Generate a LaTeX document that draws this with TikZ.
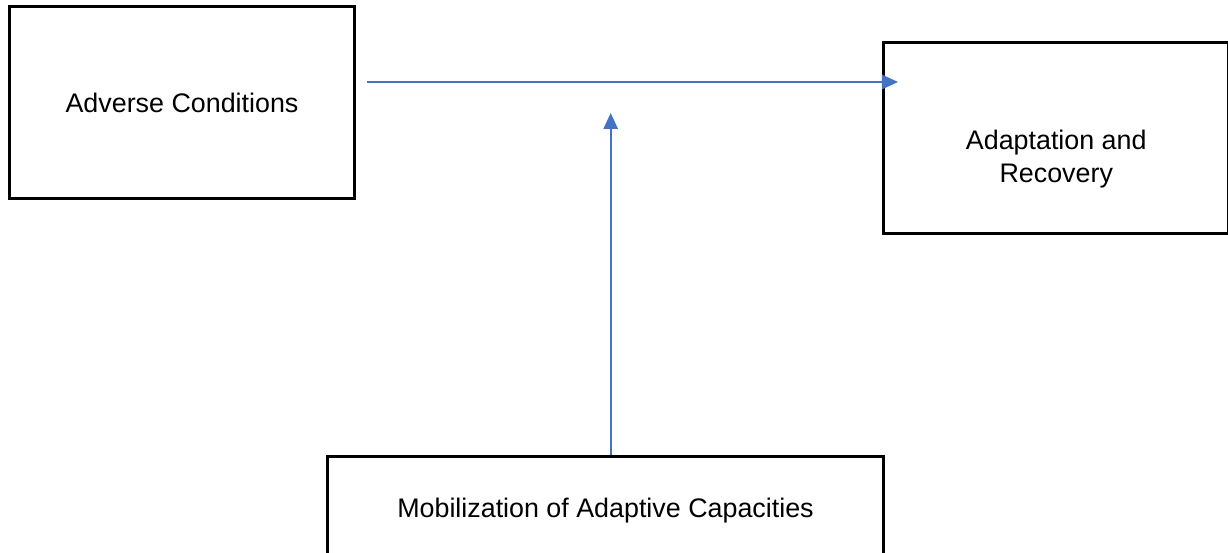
\documentclass[tikz,border=0pt]{standalone}
\usepackage{fontspec}
\setmainfont{Liberation Sans}
\usepackage{tikz}
\usetikzlibrary{arrows.meta}

\definecolor{flowblue}{RGB}{68,114,196}

\begin{document}
\begin{tikzpicture}[
        font=\fontsize{19.1pt}{22.8pt}\selectfont,
        box/.style={draw, line width=0.075cm, inner sep=0pt},
        flow/.style={draw=flowblue, line width=0.04cm, -{Triangle[length=0.4cm,width=0.36cm]}}
    ]
    \useasboundingbox (0,0) rectangle (30.7,13.825);

    % the three boxes
    \node[box, minimum width=8.625cm, minimum height=4.8cm] (adverse) at (4.55,11.2625) {Adverse Conditions};
    \node[box, minimum width=8.6125cm, minimum height=4.7875cm] (recovery) at (26.406,10.369) {};
    \node[align=center] (recoverytext) at ([yshift=-0.52cm]recovery.center) {Adaptation and\\Recovery};
    \node[box, text depth=0pt, minimum width=13.9cm, minimum height=2.575cm] (mobil) at (15.1375,1.125) {Mobilization of Adaptive Capacities};

    % arrows
    \coordinate (lift) at ([xshift=0.13cm,yshift=8.55cm]mobil.north);
    \draw[flow] ([shift={(0.275,0.5125)}]adverse.east) -- ([shift={(0.3875,1.406)}]recovery.west);
    \draw[flow] (mobil.north -| lift) -- (lift);
\end{tikzpicture}
\end{document}
